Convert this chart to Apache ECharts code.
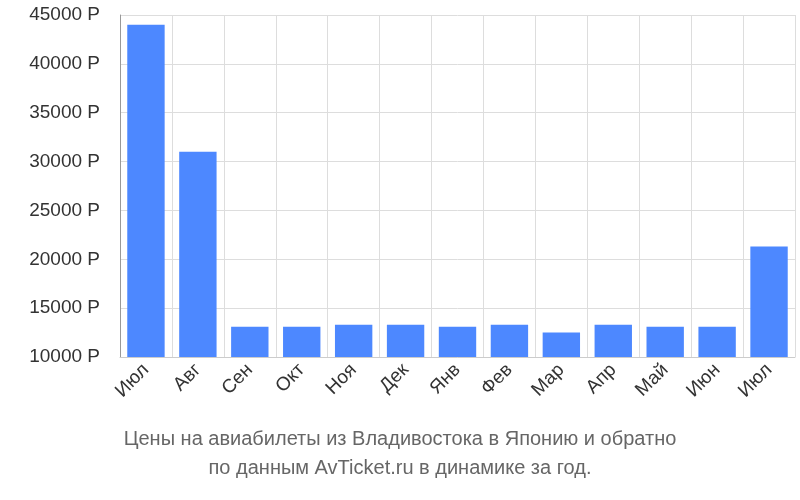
<!DOCTYPE html>
<html lang="ru">
<head>
    <meta charset="UTF-8">
    <title>Цены на авиабилеты</title>
    <script src="https://cdn.jsdelivr.net/npm/echarts@6/dist/echarts.min.js"></script>
    <style>
        html, body { margin: 0; padding: 0; background: #fff; }
        #chart { width: 800px; height: 500px; }
    </style>
</head>
<body>
<div id="chart"></div>
<script>
    const months = ['Июл', 'Авг', 'Сен', 'Окт', 'Ноя', 'Дек', 'Янв', 'Фев', 'Мар', 'Апр', 'Май', 'Июн', 'Июл'];
    const prices = [44000, 31000, 13100, 13100, 13300, 13300, 13100, 13300, 12500, 13300, 13100, 13100, 21300];
    const titleLines = ['Цены на авиабилеты из Владивостока в Японию и обратно', 'по данным AvTicket.ru в динамике за год.'];

    const chart = echarts.init(document.getElementById('chart'));
    chart.setOption({
        animation: false,
        title: {
            text: titleLines.join('\n'),
            left: 'center',
            bottom: 12,
            textStyle: { color: '#666', fontSize: 20, fontWeight: 'normal', fontFamily: 'Liberation Sans', lineHeight: 29 }
        },
        grid: { left: 120, right: 5, top: 15, bottom: 143 },
        xAxis: {
            type: 'category',
            data: months,
            axisLine: { lineStyle: { color: '#ccc' } },
            axisTick: { show: false },
            splitLine: { show: true, interval: 0, lineStyle: { color: '#ddd' } },
            axisLabel: { rotate: 45, interval: 0, color: '#333', fontSize: 19, fontFamily: 'Liberation Sans', margin: 10 }
        },
        yAxis: {
            type: 'value',
            min: 10000,
            max: 45000,
            interval: 5000,
            axisLine: { show: true, lineStyle: { color: '#999' } },
            splitLine: { lineStyle: { color: '#ddd' } },
            axisLabel: { color: '#333', fontSize: 19, fontFamily: 'Liberation Sans', formatter: v => v + ' Р', margin: 20 }
        },
        series: [{
            type: 'bar',
            data: prices,
            barWidth: '72%',
            itemStyle: { color: '#4d88ff' }
        }]
    });
</script>
</body>
</html>
